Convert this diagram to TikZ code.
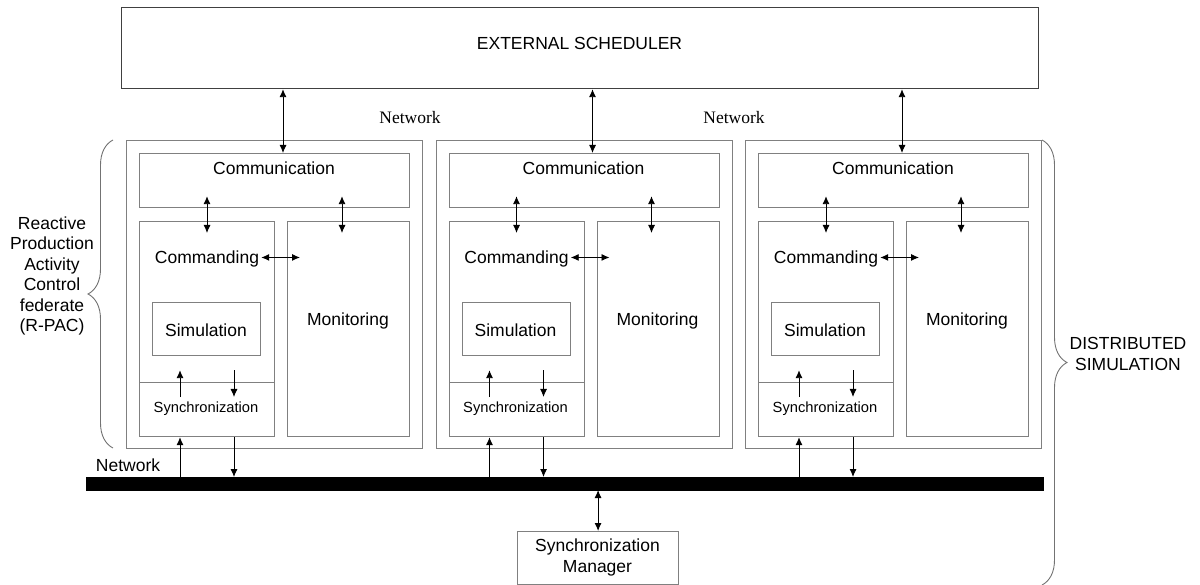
\documentclass[tikz,border=0pt]{standalone}
\usepackage{fontspec}
\setmainfont{Liberation Sans}
\newfontfamily\serifnet{Liberation Serif}
\usetikzlibrary{arrows.meta,calc,decorations.pathreplacing}
\begin{document}
\begin{tikzpicture}[x=1pt,y=-1pt,
  box/.style={draw=black!50,line width=1.2pt,rectangle,anchor=north west,inner sep=0pt},
  arr/.style={{Latex[length=8pt,width=7pt]}-{Latex[length=8pt,width=7pt]},line width=0.9pt},
  oneway/.style={-{Latex[length=8pt,width=7pt]},line width=0.9pt},
  txt/.style={font=\fontsize{17.5}{20.4}\selectfont,inner sep=0pt,anchor=base},
  small/.style={font=\fontsize{14.7}{17}\selectfont,inner sep=0pt,anchor=base},
  lbl/.style={font=\fontsize{17.5}{20.4}\selectfont,inner sep=0pt,align=center},
  brc/.style={draw=black!55,line width=0.9pt,decorate,decoration={brace,amplitude=25pt}}]
\useasboundingbox (0,0) rectangle (1200,585);

% external scheduler
\node[box,draw=black!75,minimum width=917pt,minimum height=81pt] (sched) at (121,7) {};
\node[txt] (schedt) at (579.5,50) {EXTERNAL SCHEDULER};

% network labels (top)
\node[txt,font=\serifnet\fontsize{17.5}{20}\selectfont] (net1) at (410,124) {Network};
\node[txt,font=\serifnet\fontsize{17.5}{20}\selectfont] (net2) at (734,124) {Network};

% network bar
\node[box,fill=black,draw=black,line width=0pt,minimum width=957pt,minimum height=13pt] (bus) at (86,477) {};
\node[txt] (net3) at (128,471) {Network};

% federates
\foreach \i/\ox in {1/0,2/309.5,3/619} {
  \node[box,minimum width=296pt,minimum height=308pt] (fed\i) at (126+\ox,140) {};
  \node[box,minimum width=270pt,minimum height=54pt] (comm\i) at (139+\ox,153) {};
  \node[box,minimum width=135pt,minimum height=215pt] (cmd\i) at (139+\ox,221) {};
  \node[box,minimum width=135pt,minimum height=54pt] (sync\i) at (139+\ox,382) {};
  \node[box,minimum width=122pt,minimum height=215pt] (mon\i) at (287+\ox,221) {};
  \node[box,minimum width=108pt,minimum height=53pt] (sim\i) at (152+\ox,302) {};
  \node[txt] (commt\i) at (274+\ox,175) {Communication};
  \node[txt] (cmdt\i) at (207+\ox,264) {Commanding};
  \node[txt] (mont\i) at (348+\ox,326) {Monitoring};
  \node[txt] (simt\i) at (206+\ox,337) {Simulation};
  \node[small] (synct\i) at (206+\ox,413) {Synchronization};
  \coordinate (xs\i) at (283+\ox,0);
  \coordinate (xc\i) at (207+\ox,0);
  \coordinate (xm\i) at (342+\ox,0);
  \coordinate (xu\i) at (180+\ox,0);
  \coordinate (xd\i) at (234+\ox,0);
  % arrows
  \draw[arr] (sched.south -| xs\i) -- (comm\i.north -| xs\i);
  \draw[arr] ($(comm\i.south -| xc\i)+(0,-12)$) -- ($(cmd\i.north -| xc\i)+(0,12)$);
  \draw[arr] ($(comm\i.south -| xm\i)+(0,-12)$) -- ($(mon\i.north -| xm\i)+(0,12)$);
  \draw[arr] ($(cmdt\i.east)+(2,-2)$) -- ($(mon\i.west |- cmdt\i.east)+(13,-2)$);
  \draw[oneway] ($(sync\i.north -| xu\i)+(0,15)$) -- ($(sim\i.south -| xu\i)+(0,14)$);
  \draw[oneway] ($(sim\i.south -| xd\i)+(0,14)$) -- ($(sync\i.north -| xd\i)+(0,15)$);
  \draw[oneway] (bus.north -| xu\i) -- (sync\i.south -| xu\i);
  \draw[oneway] (sync\i.south -| xd\i) -- (bus.north -| xd\i);
}

% synchronization manager
\node[box,minimum width=161pt,minimum height=53pt] (mgr) at (517,531) {};
\node[lbl] (mgrt) at (597.5,557.6) {Synchronization\\Manager};
\draw[arr] (bus.south -| mgr.north) -- (mgr.north);

% braces
\coordinate (lb1) at (113,448);
\coordinate (lb2) at (113,140);
\draw[brc] (lb1) -- (lb2);
\node[lbl] (rpac) at (52,276) {Reactive\\Production\\Activity\\Control\\federate\\(R-PAC)};
\coordinate (rb1) at (1042,140);
\coordinate (rb2) at (1042,585);
\draw[brc] (rb1) -- (rb2);
\node[lbl] (dist) at (1128,354) {DISTRIBUTED\\SIMULATION};
\end{tikzpicture}
\end{document}
